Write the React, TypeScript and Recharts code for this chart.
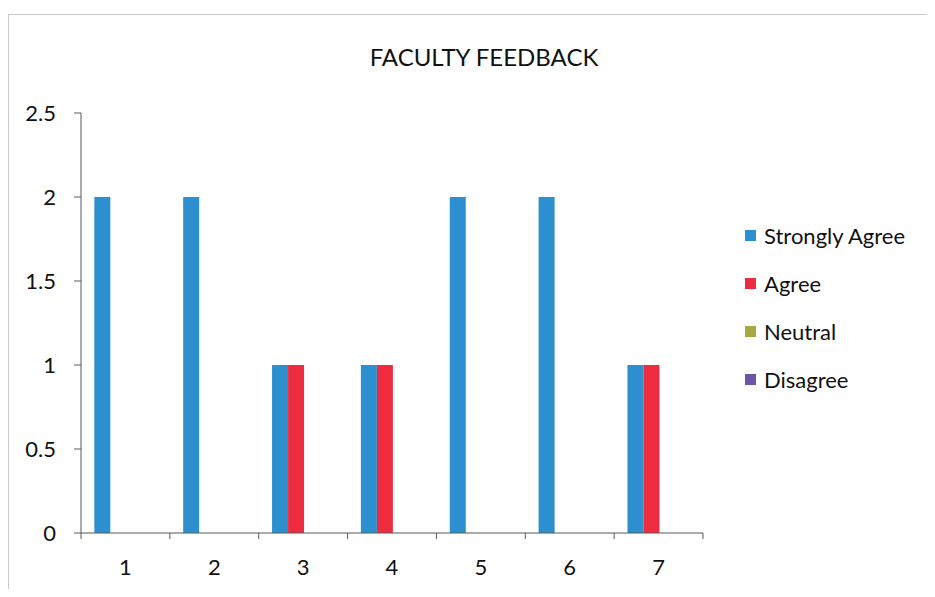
import { BarChart, Bar, XAxis, YAxis } from "recharts";

// Faculty feedback: counts per question, four response levels, Excel-style clustered bars.
const questions = ["1", "2", "3", "4", "5", "6", "7"];
const stronglyAgree = [2, 2, 1, 1, 2, 2, 1];
const agree = [0, 0, 1, 1, 0, 0, 1];
const neutral = [0, 0, 0, 0, 0, 0, 0];
const disagree = [0, 0, 0, 0, 0, 0, 0];
const yTicks = [0, 0.5, 1, 1.5, 2, 2.5];

const FONT = "Lato, 'Open Sans', sans-serif";
const AXIS = "#595959";

const series = [
  { key: "sa", name: "Strongly Agree", color: "#2c8fd0" },
  { key: "ag", name: "Agree", color: "#ee2c40" },
  { key: "ne", name: "Neutral", color: "#a7a743" },
  { key: "di", name: "Disagree", color: "#6a55a8" },
];

const data = questions.map((q, i) => ({
  q,
  sa: stronglyAgree[i],
  ag: agree[i],
  ne: neutral[i],
  di: disagree[i],
}));

// category label plus a boundary tick on the left edge of each band (and the right edge of the last)
function BandTick(props: any) {
  const { x, y, payload, index, visibleTicksCount } = props;
  const half = payload?.offset ?? 44.4;
  const last = index === (visibleTicksCount ?? questions.length) - 1;
  return (
    <g>
      <line x1={x - half} x2={x - half} y1={y} y2={y + 6} stroke={AXIS} />
      {last && <line x1={x + half} x2={x + half} y1={y} y2={y + 6} stroke={AXIS} />}
      <text x={x} y={y + 42} textAnchor="middle" fontFamily={FONT} fontSize={22} fill="#111">
        {payload.value}
      </text>
    </g>
  );
}

export default function App() {
  return (
    <div style={{ position: "relative", width: 935, height: 597, margin: -8, background: "#fff", overflow: "hidden" }}>
      <div style={{ position: "absolute", left: 8, top: 14, right: -2, bottom: -2, border: "1px solid #c9c9c9" }} />
      <div
        style={{
          position: "absolute", left: 0, width: 968, top: 42, textAlign: "center",
          fontFamily: FONT, fontSize: 24, color: "#111",
        }}
      >
        FACULTY FEEDBACK
      </div>
      <div style={{ position: "absolute", left: 745, top: 211, fontFamily: FONT, fontSize: 22, color: "#111" }}>
        {series.map((s) => (
          <div key={s.key} style={{ display: "flex", alignItems: "center", height: 48 }}>
            <span style={{ width: 11, height: 11, background: s.color, marginRight: 8, display: "inline-block" }} />
            {s.name}
          </div>
        ))}
      </div>
      <BarChart
        width={935}
        height={597}
        data={data}
        margin={{ top: 113, right: 232, bottom: 0, left: 0 }}
        barCategoryGap="15%"
        barGap={0}
        style={{ position: "absolute", left: 0, top: 0 }}
      >
        <YAxis
          width={81}
          domain={[0, 2.5]}
          ticks={yTicks}
          interval={0}
          stroke={AXIS}
          tickSize={7}
          tickMargin={18}
          tick={{ fontFamily: FONT, fontSize: 22, fill: "#111" }}
        />
        <XAxis
          dataKey="q"
          height={64}
          stroke={AXIS}
          tickLine={false}
          tickSize={0}
          tickMargin={0}
          interval={0}
          tick={<BandTick />}
        />
        {series.map((s) => (
          <Bar key={s.key} dataKey={s.key} name={s.name} fill={s.color} isAnimationActive={false} />
        ))}
      </BarChart>
    </div>
  );
}
